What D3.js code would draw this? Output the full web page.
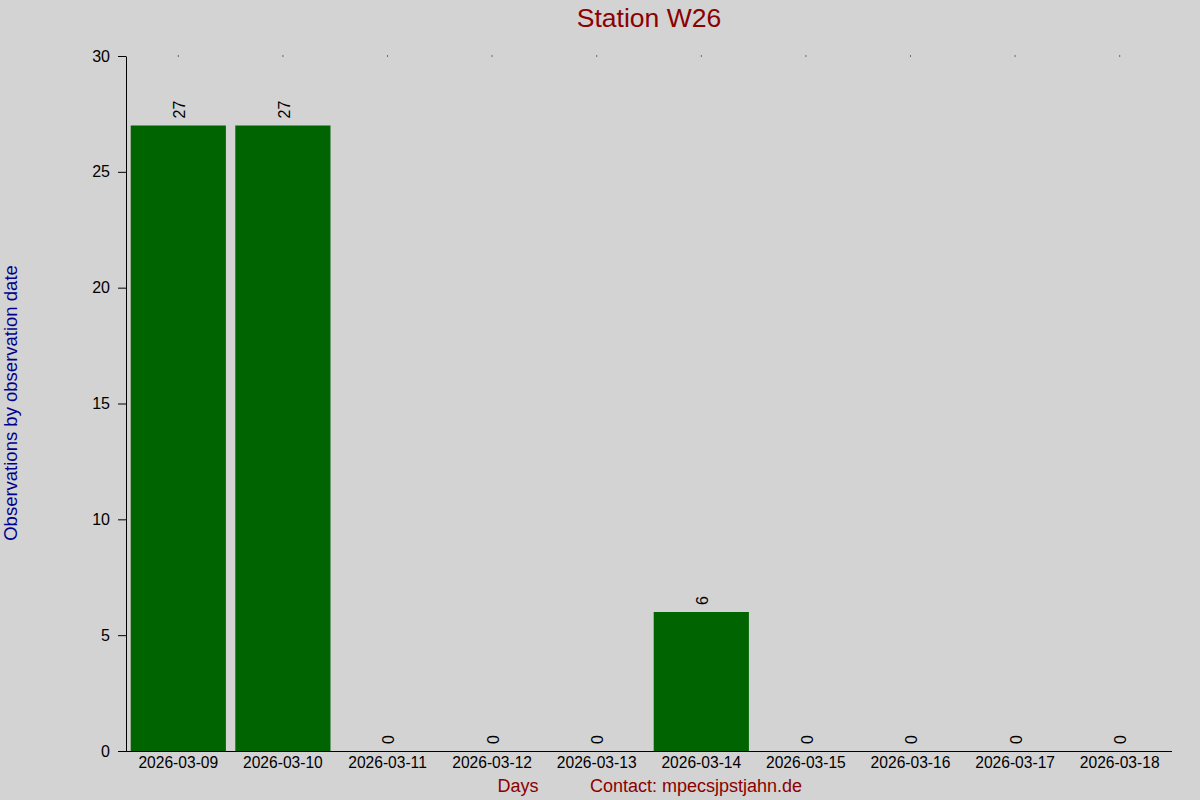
<!DOCTYPE html>
<html>
<head>
<meta charset="utf-8">
<script src="https://cdn.jsdelivr.net/npm/d3@7"></script>
<style>
  body { margin: 0; background: #d3d3d3; }
  svg { display: block; font-family: "Liberation Sans", Arial, sans-serif; }
</style>
</head>
<body>
<svg id="chart" width="1200" height="800"></svg>
<script>
// chart data
var days = ["2026-03-09", "2026-03-10", "2026-03-11", "2026-03-12", "2026-03-13",
            "2026-03-14", "2026-03-15", "2026-03-16", "2026-03-17", "2026-03-18"];
var counts = [27, 27, 0, 0, 0, 6, 0, 0, 0, 0];
var yTicks = [0, 5, 10, 15, 20, 25, 30];

var svg = d3.select("#chart");
var plotLeft = 126, plotRight = 1172, plotTop = 56, plotBottom = 751;

// background
svg.append("rect")
    .attr("width", 1200)
    .attr("height", 800)
    .attr("fill", "#d3d3d3");

// scales
var x = d3.scaleBand()
    .domain(days)
    .range([plotLeft, plotRight])
    .paddingInner(0.09)
    .paddingOuter(0.045);
var y = d3.scaleLinear()
    .domain([0, 30])
    .range([plotBottom, plotTop]);

// bars
svg.selectAll(".bar")
    .data(days)
    .enter().append("rect")
    .attr("class", "bar")
    .attr("x", function(d) { return x(d); })
    .attr("width", x.bandwidth())
    .attr("y", function(d, i) { return y(counts[i]); })
    .attr("height", function(d, i) { return y(0) - y(counts[i]); })
    .attr("fill", "#006400");

// value labels, rotated
svg.selectAll(".val")
    .data(days)
    .enter().append("text")
    .attr("class", "val")
    .attr("transform", function(d, i) {
        return "translate(" + (x(d) + x.bandwidth() / 2 + 1) + "," + (y(counts[i]) - 7) + ") rotate(-90)";
    })
    .attr("dy", "0.35em")
    .attr("font-size", 16)
    .attr("fill", "#000")
    .text(function(d, i) { return counts[i]; });

// y axis
var yAxis = svg.append("g")
    .attr("transform", "translate(" + plotLeft + ",0)")
    .call(d3.axisLeft(y).tickValues(yTicks).tickSize(8).tickPadding(8).tickSizeOuter(0));
yAxis.select(".domain").attr("stroke", "#000");
yAxis.selectAll("text").attr("font-size", 16).attr("font-family", null).attr("fill", "#000");

// x axis
var xAxis = svg.append("g")
    .attr("transform", "translate(0," + plotBottom + ")")
    .call(d3.axisBottom(x).tickSize(0).tickPadding(6));
xAxis.select(".domain").attr("d", "M" + (plotLeft - 8) + ",0.5H" + plotRight);
xAxis.selectAll("text").attr("font-size", 15.6).attr("font-family", null).attr("fill", "#000");

// little dots on top edge
svg.selectAll(".topdot")
    .data(days)
    .enter().append("rect")
    .attr("class", "topdot")
    .attr("x", function(d) { return x(d) + x.bandwidth() / 2 - 0.5; })
    .attr("y", plotTop - 0.5)
    .attr("width", 1)
    .attr("height", 1)
    .attr("fill", "#000");

// title
svg.append("text")
    .attr("x", 649)
    .attr("y", 27)
    .attr("text-anchor", "middle")
    .attr("font-size", 26.5)
    .attr("fill", "#8b0000")
    .text("Station W26");

// y label
svg.append("text")
    .attr("transform", "translate(17,403) rotate(-90)")
    .attr("text-anchor", "middle")
    .attr("font-size", 18.5)
    .attr("fill", "#00008b")
    .text("Observations by observation date");

// bottom labels
svg.append("text")
    .attr("x", 518)
    .attr("y", 792)
    .attr("text-anchor", "middle")
    .attr("font-size", 18)
    .attr("fill", "#8b0000")
    .text("Days");

svg.append("text")
    .attr("x", 590)
    .attr("y", 792)
    .attr("font-size", 18)
    .attr("fill", "#8b0000")
    .text("Contact: mpecsjpstjahn.de");
</script>
</body>
</html>
